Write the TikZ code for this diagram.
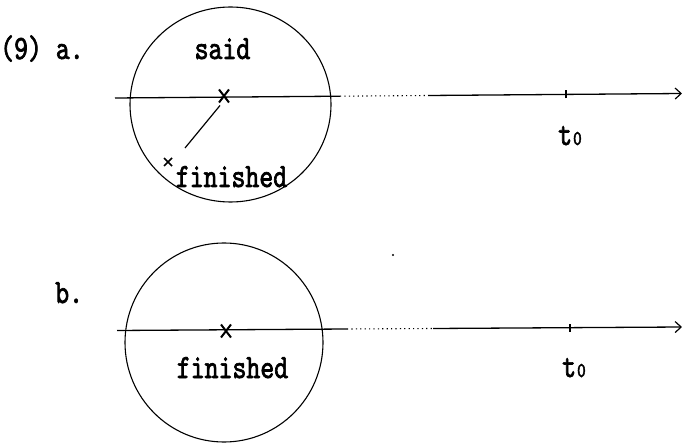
\documentclass[tikz,border=0pt]{standalone}
\usepackage{fontspec}
\newfontfamily\monof{lmmono10-regular.otf}[FakeStretch=0.78, FakeBold=2]
\usetikzlibrary{arrows.meta}
\tikzset{
  lbl/.style={font=\monof\fontsize{34}{36}\selectfont, inner sep=0pt},
  axis/.style={line width=1.3pt},
  dotpart/.style={line width=1.1pt, dash pattern=on 1.2pt off 3.2pt},
  ring/.style={line width=1.1pt},
  tickmark/.style={line width=1.4pt},
  arrowtip/.style={-{Straight Barb[length=6pt,width=11pt,line width=1.2pt]}},
  bigx/.pic={\draw[line width=2pt] (-5,-6.5)--(5,6.5) (-5,6.5)--(5,-6.5);},
  smallx/.pic={\draw[line width=1.6pt] (-4,-4)--(4,4) (-4,4)--(4,-4);}
}
\newcommand{\tzero}{t\kern1pt{\fontsize{21}{22}\selectfont 0}}
\begin{document}
\begin{tikzpicture}[x=1pt,y=-1pt]
\useasboundingbox (0,0) rectangle (682,443);
% ---------- (9) a. ----------
\node[lbl, anchor=base west] (labA) at (0,59) {(9) a.};
\draw[ring] (230.5,104.5) ellipse [x radius=100.5, y radius=97.5];
\coordinate (A0) at (115,98);
\coordinate (A1) at (340,96.2);
\coordinate (A2) at (428,95.5);
\coordinate (A3) at (682,93.5);
\draw[axis] (A0) -- (A1);
\draw[dotpart] (A1) -- (A2);
\draw[axis, arrowtip] (A2) -- (A3);
\coordinate (tickA) at (566,94.4);
\draw[tickmark] ([yshift=-4pt]tickA) -- ([yshift=4pt]tickA);
\node[lbl, anchor=base] (said) at (222.5,59) {said};
\coordinate (xA) at (224,96);
\pic at (xA) {bigx};
\coordinate (xS) at (168,162);
\pic at (xS) {smallx};
\draw[line width=1.2pt] (220,105.5) -- (185,148);
\node[lbl, anchor=base] (finA) at (231.5,187) {finished};
\node[lbl, anchor=base west] (tA) at (558,145) {\tzero};
% ---------- b. ----------
\node[lbl, anchor=base west] (labB) at (55,303) {b.};
\draw[ring] (224,342.5) ellipse [x radius=99, y radius=99.5];
\coordinate (B0) at (117,330.5);
\coordinate (B1) at (347,329);
\coordinate (B2) at (433,328.5);
\coordinate (B3) at (682,327);
\draw[axis] (B0) -- (B1);
\draw[dotpart] (B1) -- (B2);
\draw[axis, arrowtip] (B2) -- (B3);
\coordinate (tickB) at (570,327.6);
\draw[tickmark] ([yshift=-4pt]tickB) -- ([yshift=4pt]tickB);
\coordinate (xB) at (226,331);
\pic at (xB) {bigx};
\node[lbl, anchor=base] (finB) at (232.5,378) {finished};
\node[lbl, anchor=base west] (tB) at (562,377) {\tzero};
\fill (393,255) circle (1.2pt);
\end{tikzpicture}
\end{document}
